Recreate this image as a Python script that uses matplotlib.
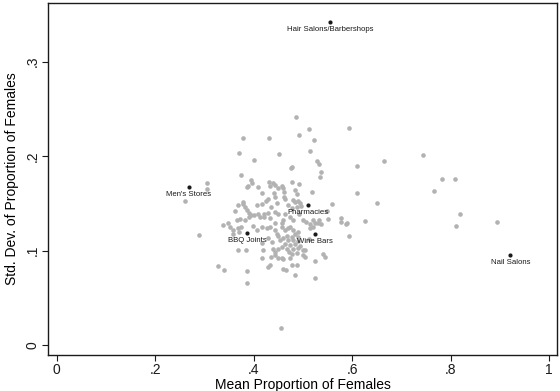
import matplotlib.pyplot as plt

plt.rcParams['font.family'] = ['Liberation Sans', 'DejaVu Sans']

# all industries (gray)
mean_fem = [
    .485, .513, .594, .431, .379, .492, .522, .514, .451, .370, .401, .665, .610, .528, .533,
    .477, .475, .536, .535, .375, .304, .304, .261, .744, .783, .809, .767, .819, .810, .894,
    .610, .650, .558, .549, .577, .577, .587, .590, .626, .593, .536, .551, .289, .327, .340,
    .387, .387, .455, .524, .484, .524, .541, .545, .465, .459, .477, .487, .457, .460, .474,
    .504, .472, .487, .501, .504, .416, .432, .429, .418, .367, .385, .439, .443, .450, .443,
    .450, .436, .417, .352, .358, .368, .375, .338, .358, .370, .399, .406, .416, .426, .433,
    .443, .447, .348, .365, .372, .382, .413, .420, .443, .443, .449, .401, .409, .421, .428,
    .390, .394, .390, .386, .382, .379, .379, .368, .362, .407, .416, .429, .424, .443, .416,
    .409, .394, .396, .389, .386, .431, .440, .443, .433, .442, .449, .477, .492, .457, .459,
    .461, .484, .487, .519, .461, .463, .479, .484, .490, .494, .495, .470, .477, .487, .463,
    .474, .480, .459, .457, .499, .507, .521, .524, .531, .533, .436, .492, .514, .457, .463,
    .470, .474, .480, .484, .490, .467, .477, .490, .460, .470, .480, .490, .463, .474, .484,
    .457, .467, .480, .490, .494, .501, .477, .514, .521, .513, .447, .432, .429, .437, .449,
    .453,
]
sd_fem = [
    .242, .229, .230, .219, .219, .222, .217, .205, .202, .203, .196, .195, .190, .195, .192,
    .189, .187, .183, .178, .180, .172, .165, .153, .201, .176, .176, .163, .139, .126, .130,
    .161, .151, .149, .142, .135, .130, .128, .129, .131, .116, .128, .134, .117, .084, .080,
    .078, .066, .0185, .071, .074, .089, .097, .093, .080, .081, .085, .085, .092, .091, .092,
    .093, .099, .098, .095, .101, .092, .085, .083, .101, .101, .101, .102, .099, .102, .095,
    .092, .093, .108, .125, .122, .1235, .125, .127, .118, .120, .126, .122, .125, .1235, .125,
    .122, .118, .129, .132, .134, .132, .136, .136, .129, .141, .139, .1375, .139, .139, .140,
    .136, .1375, .140, .1435, .146, .149, .152, .148, .142, .148, .149, .155, .153, .157, .1615,
    .167, .1745, .172, .1685, .167, .173, .172, .169, .168, .161, .166, .173, .171, .168, .166,
    .162, .164, .160, .162, .157, .155, .154, .152, .153, .150, .147, .148, .145, .146, .139,
    .136, .132, .132, .129, .133, .130, .132, .129, .129, .133, .146, .139, .128, .125, .122,
    .1235, .125, .122, .118, .120, .116, .1146, .1146, .113, .111, .111, .110, .1076, .106, .1076,
    .104, .102, .1016, .103, .105, .1005, .097, .1235, .125, .112, .150, .135, .113, .109, .1155,
    .111,
]

# highlighted industries
hl_names = ['Hair Salons/Barbershops', "Men's Stores", 'Pharmacies', 'BBQ Joints',
            'Wine Bars', 'Nail Salons']
hl_mean = [.555, .268, .510, .387, .525, .921]
hl_sd = [.342, .1675, .1487, .1187, .1178, .0956]

fig = plt.figure(figsize=(5.6, 3.91), dpi=100)
ax = fig.add_axes([0.0857, 0.093, 0.909, 0.899])

ax.scatter(mean_fem, sd_fem, s=11, color='#b2b2b2', linewidths=0, zorder=2)
ax.scatter(hl_mean, hl_sd, s=9, color='#1a1a1a', linewidths=0, zorder=3)
for name, xv, yv in zip(hl_names, hl_mean, hl_sd):
    ax.annotate(name, (xv, yv), xytext=(0, -3.2), textcoords='offset points',
                ha='center', va='top', fontsize=5.6, color='#1a1a1a', zorder=4)

ax.set_xlim(-0.018, 1.016)
ax.set_ylim(-0.010, 0.362)
ax.set_xticks([0, .2, .4, .6, .8, 1])
ax.set_xticklabels(['0', '.2', '.4', '.6', '.8', '1'])
ax.set_yticks([0, .1, .2, .3])
ax.set_yticklabels(['0', '.1', '.2', '.3'], rotation=90, va='center')
ax.tick_params(direction='out', length=4, width=0.8, labelsize=10, colors='#1a1a1a', pad=2)
for sp in ax.spines.values():
    sp.set_linewidth(1.0)
    sp.set_color('#1a1a1a')

ax.set_xlabel('Mean Proportion of Females', fontsize=10, labelpad=1)
ax.set_ylabel('Std. Dev. of Proportion of Females', fontsize=10, labelpad=5)

fig.savefig('out.png', dpi=100)
